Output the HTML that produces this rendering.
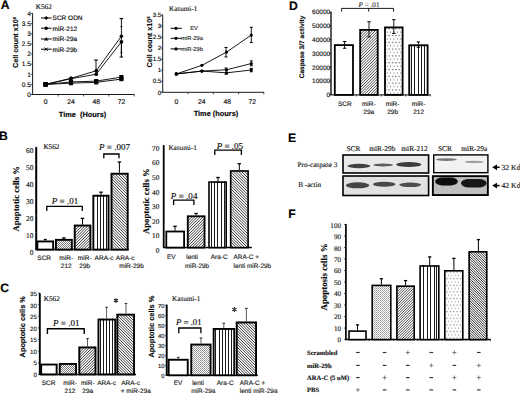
<!DOCTYPE html>
<html><head><meta charset="utf-8"><style>
html,body{margin:0;padding:0;background:#fff;}
body{width:520px;height:393px;overflow:hidden;}
svg{display:block;}
.S{font-family:"Liberation Sans", sans-serif;}
.T{font-family:"Liberation Serif", serif;}
text{text-rendering:geometricPrecision;stroke:#222;stroke-width:0.15px;}
</style></head><body>
<svg width="520" height="393" viewBox="0 0 520 393">

<defs>
<pattern id="dots" patternUnits="userSpaceOnUse" width="3.4" height="6.8"><rect width="3.4" height="6.8" fill="#fff"/><rect x="1" y="1" width="1.1" height="1.1" fill="#333"/><rect x="2.7" y="4.4" width="1.1" height="1.1" fill="#333"/></pattern>
<pattern id="sdots" patternUnits="userSpaceOnUse" width="3.4" height="6.6"><rect width="3.4" height="6.6" fill="#fff"/><rect x="1" y="1" width="1" height="1" fill="#555"/><rect x="2.7" y="4.3" width="1" height="1" fill="#555"/></pattern>
<pattern id="check" patternUnits="userSpaceOnUse" width="2" height="2"><rect width="2" height="2" fill="#fff"/><rect x="0" y="0" width="1" height="1" fill="#7a7a7a"/><rect x="1" y="1" width="1" height="1" fill="#7a7a7a"/></pattern>
<pattern id="fine2" patternUnits="userSpaceOnUse" width="2" height="2"><rect width="2" height="2" fill="#fff"/><rect x="0" y="0" width="1" height="1" fill="#9a9a9a"/><rect x="1" y="1" width="1" height="1" fill="#b0b0b0"/></pattern>
<pattern id="fine" patternUnits="userSpaceOnUse" width="2" height="2"><rect width="2" height="2" fill="#fff"/><rect x="0" y="0" width="1" height="1" fill="#8c8c8c"/><rect x="1" y="1" width="1" height="1" fill="#a0a0a0"/></pattern>
<filter id="blur1" x="-20%" y="-100%" width="140%" height="300%"><feGaussianBlur stdDeviation="0.7"/></filter>
<filter id="blur2"><feGaussianBlur stdDeviation="1.1"/></filter>
</defs>

<rect width="520" height="393" fill="#fff"/>
<text class="S" x="0.8" y="8.7" font-size="12.2" font-weight="bold" >A</text>
<text class="S" x="-0.9" y="140.3" font-size="12.2" font-weight="bold" >B</text>
<text class="S" x="0.3" y="291.7" font-size="12.2" font-weight="bold" >C</text>
<text class="S" x="288.9" y="9.6" font-size="12.2" font-weight="bold" >D</text>
<text class="S" x="288.1" y="142.3" font-size="12.2" font-weight="bold" >E</text>
<text class="S" x="288.2" y="218.3" font-size="12.2" font-weight="bold" >F</text>
<line x1="32.6" y1="13.2" x2="32.6" y2="94.5" stroke="#000" stroke-width="0.9"/>
<line x1="32.2" y1="94.5" x2="134.4" y2="94.5" stroke="#000" stroke-width="0.9"/>
<line x1="30.6" y1="94.5" x2="32.6" y2="94.5" stroke="#000" stroke-width="0.7"/>
<text class="S" x="31" y="96.8" font-size="6.6" text-anchor="end" >0</text>
<line x1="30.6" y1="84.38" x2="32.6" y2="84.38" stroke="#000" stroke-width="0.7"/>
<text class="S" x="31" y="86.67" font-size="6.6" text-anchor="end" >0.5</text>
<line x1="30.6" y1="74.25" x2="32.6" y2="74.25" stroke="#000" stroke-width="0.7"/>
<text class="S" x="31" y="76.55" font-size="6.6" text-anchor="end" >1</text>
<line x1="30.6" y1="64.12" x2="32.6" y2="64.12" stroke="#000" stroke-width="0.7"/>
<text class="S" x="31" y="66.42" font-size="6.6" text-anchor="end" >1.5</text>
<line x1="30.6" y1="54" x2="32.6" y2="54" stroke="#000" stroke-width="0.7"/>
<text class="S" x="31" y="56.3" font-size="6.6" text-anchor="end" >2</text>
<line x1="30.6" y1="43.88" x2="32.6" y2="43.88" stroke="#000" stroke-width="0.7"/>
<text class="S" x="31" y="46.17" font-size="6.6" text-anchor="end" >2.5</text>
<line x1="30.6" y1="33.75" x2="32.6" y2="33.75" stroke="#000" stroke-width="0.7"/>
<text class="S" x="31" y="36.05" font-size="6.6" text-anchor="end" >3</text>
<line x1="30.6" y1="23.62" x2="32.6" y2="23.62" stroke="#000" stroke-width="0.7"/>
<text class="S" x="31" y="25.93" font-size="6.6" text-anchor="end" >3.5</text>
<line x1="30.6" y1="13.5" x2="32.6" y2="13.5" stroke="#000" stroke-width="0.7"/>
<text class="S" x="31" y="15.8" font-size="6.6" text-anchor="end" >4</text>
<line x1="58.2" y1="94.5" x2="58.2" y2="96.5" stroke="#000" stroke-width="0.7"/>
<line x1="83.6" y1="94.5" x2="83.6" y2="96.5" stroke="#000" stroke-width="0.7"/>
<line x1="108.8" y1="94.5" x2="108.8" y2="96.5" stroke="#000" stroke-width="0.7"/>
<line x1="134.2" y1="94.5" x2="134.2" y2="96.5" stroke="#000" stroke-width="0.7"/>
<text class="S" x="45.6" y="103.8" font-size="6.8" text-anchor="middle" >0</text>
<text class="S" x="71" y="103.8" font-size="6.8" text-anchor="middle" >24</text>
<text class="S" x="96.2" y="103.8" font-size="6.8" text-anchor="middle" >48</text>
<text class="S" x="121.6" y="103.8" font-size="6.8" text-anchor="middle" >72</text>
<text class="S" x="82.5" y="116.8" font-size="7.4" font-weight="bold" text-anchor="middle" xml:space="preserve">Time  (Hours)</text>
<text class="S" transform="translate(18.12,42.4) rotate(-90)" text-anchor="middle" font-size="7.2" font-weight="bold" fill="#000">Cell count x10<tspan font-size="4.4" dy="-2.1">6</tspan></text>
<text class="T" x="35.8" y="9" font-size="7.2" >K562</text>
<line x1="41" y1="18" x2="51.6" y2="18" stroke="#000" stroke-width="1"/>
<path d="M46.2,16 L48.2,18 L46.2,20 L44.2,18Z" fill="#000"/>
<text class="S" x="52.6" y="20.3" font-size="6.5" >SCR ODN</text>
<line x1="41" y1="28.2" x2="51.6" y2="28.2" stroke="#000" stroke-width="1"/>
<circle cx="46.2" cy="28.2" r="1.7" fill="#000"/>
<text class="S" x="52.6" y="30.5" font-size="6.5" >miR-212</text>
<line x1="41" y1="39" x2="51.6" y2="39" stroke="#000" stroke-width="1"/>
<path d="M46.2,36.9 L48.3,40.6 L44.1,40.6Z" fill="#000"/>
<text class="S" x="52.6" y="41.3" font-size="6.5" >miR-29a</text>
<line x1="41" y1="49.2" x2="51.6" y2="49.2" stroke="#000" stroke-width="1"/>
<path d="M44.6,47.6 L47.8,50.8 M47.8,47.6 L44.6,50.8" stroke="#000" stroke-width="1" fill="none"/>
<text class="S" x="52.6" y="51.5" font-size="6.5" >miR-29b</text>
<polyline points="45.6,84.38 71,78.3 96.2,70.81 121.4,36.18" fill="none" stroke="#000" stroke-width="0.9"/>
<polyline points="45.6,84.38 71,78.7 96.2,74.25 121.4,41.85" fill="none" stroke="#000" stroke-width="0.9"/>
<polyline points="45.6,84.38 71,81.94 96.2,81.14 121.4,77.09" fill="none" stroke="#000" stroke-width="0.9"/>
<polyline points="45.6,84.38 71,83.16 96.2,82.35 121.4,79.11" fill="none" stroke="#000" stroke-width="0.9"/>
<line x1="121.4" y1="18.56" x2="121.4" y2="57.04" stroke="#000" stroke-width="0.9"/>
<line x1="119.65" y1="18.56" x2="123.15" y2="18.56" stroke="#000" stroke-width="1.2"/>
<line x1="121.4" y1="41.85" x2="121.4" y2="57.04" stroke="#000" stroke-width="0.9"/>
<line x1="96" y1="60.08" x2="96" y2="74.25" stroke="#000" stroke-width="0.9"/>
<line x1="94.25" y1="60.08" x2="97.75" y2="60.08" stroke="#000" stroke-width="1.2"/>
<rect x="43.5" y="82.28" width="4.2" height="4.2" fill="#000"/>
<path d="M71,76.1 L73.2,78.3 L71,80.5 L68.8,78.3Z" fill="#000"/>
<path d="M96.2,68.61 L98.4,70.81 L96.2,73.01 L94,70.81Z" fill="#000"/>
<path d="M121.4,33.98 L123.6,36.18 L121.4,38.38 L119.2,36.18Z" fill="#000"/>
<rect x="43.5" y="82.28" width="4.2" height="4.2" fill="#000"/>
<circle cx="71" cy="78.7" r="1.87" fill="#000"/>
<circle cx="96.2" cy="74.25" r="1.87" fill="#000"/>
<circle cx="121.4" cy="41.85" r="1.87" fill="#000"/>
<rect x="43.5" y="82.28" width="4.2" height="4.2" fill="#000"/>
<rect x="68.9" y="79.84" width="4.2" height="4.2" fill="#000"/>
<rect x="94.1" y="79.04" width="4.2" height="4.2" fill="#000"/>
<rect x="119.3" y="74.99" width="4.2" height="4.2" fill="#000"/>
<rect x="43.5" y="82.28" width="4.2" height="4.2" fill="#000"/>
<rect x="68.9" y="81.06" width="4.2" height="4.2" fill="#000"/>
<rect x="94.1" y="80.25" width="4.2" height="4.2" fill="#000"/>
<rect x="119.3" y="77.01" width="4.2" height="4.2" fill="#000"/>
<line x1="119.6" y1="57.04" x2="123.2" y2="57.04" stroke="#000" stroke-width="1"/>
<line x1="120.4" y1="26.6" x2="122.4" y2="26.6" stroke="#000" stroke-width="0.8"/>
<line x1="120.4" y1="52.3" x2="122.4" y2="52.3" stroke="#000" stroke-width="0.8"/>
<line x1="162.7" y1="14.6" x2="162.7" y2="92.3" stroke="#000" stroke-width="0.9"/>
<line x1="162.3" y1="92.3" x2="263.9" y2="92.3" stroke="#000" stroke-width="0.9"/>
<line x1="160.7" y1="92.3" x2="162.7" y2="92.3" stroke="#000" stroke-width="0.7"/>
<text class="S" x="161.3" y="94.5" font-size="6.2" text-anchor="end" >0</text>
<line x1="160.7" y1="81.25" x2="162.7" y2="81.25" stroke="#000" stroke-width="0.7"/>
<text class="S" x="161.3" y="83.45" font-size="6.2" text-anchor="end" >0.5</text>
<line x1="160.7" y1="70.2" x2="162.7" y2="70.2" stroke="#000" stroke-width="0.7"/>
<text class="S" x="161.3" y="72.4" font-size="6.2" text-anchor="end" >1</text>
<line x1="160.7" y1="59.15" x2="162.7" y2="59.15" stroke="#000" stroke-width="0.7"/>
<text class="S" x="161.3" y="61.35" font-size="6.2" text-anchor="end" >1.5</text>
<line x1="160.7" y1="48.1" x2="162.7" y2="48.1" stroke="#000" stroke-width="0.7"/>
<text class="S" x="161.3" y="50.3" font-size="6.2" text-anchor="end" >2</text>
<line x1="160.7" y1="37.05" x2="162.7" y2="37.05" stroke="#000" stroke-width="0.7"/>
<text class="S" x="161.3" y="39.25" font-size="6.2" text-anchor="end" >2.5</text>
<line x1="160.7" y1="26" x2="162.7" y2="26" stroke="#000" stroke-width="0.7"/>
<text class="S" x="161.3" y="28.2" font-size="6.2" text-anchor="end" >3</text>
<line x1="160.7" y1="14.95" x2="162.7" y2="14.95" stroke="#000" stroke-width="0.7"/>
<text class="S" x="161.3" y="17.15" font-size="6.2" text-anchor="end" >3.5</text>
<line x1="188" y1="92.3" x2="188" y2="94.3" stroke="#000" stroke-width="0.7"/>
<line x1="213.3" y1="92.3" x2="213.3" y2="94.3" stroke="#000" stroke-width="0.7"/>
<line x1="238.6" y1="92.3" x2="238.6" y2="94.3" stroke="#000" stroke-width="0.7"/>
<line x1="263.8" y1="92.3" x2="263.8" y2="94.3" stroke="#000" stroke-width="0.7"/>
<text class="S" x="176.3" y="104.4" font-size="6.8" text-anchor="middle" >0</text>
<text class="S" x="201.8" y="104.4" font-size="6.8" text-anchor="middle" >24</text>
<text class="S" x="227.2" y="104.4" font-size="6.8" text-anchor="middle" >48</text>
<text class="S" x="252.2" y="104.4" font-size="6.8" text-anchor="middle" >72</text>
<text class="S" x="216" y="116.2" font-size="7.4" text-anchor="middle" font-weight="bold" >Time (hours)</text>
<text class="S" transform="translate(151.92,41.9) rotate(-90)" text-anchor="middle" font-size="7.2" font-weight="bold" fill="#000">Cell count x10<tspan font-size="4.4" dy="-2.1">6</tspan></text>
<text class="T" x="169" y="10.7" font-size="7.2" fill="#222" >Kasumi-1</text>
<line x1="170.6" y1="28.3" x2="181.8" y2="28.3" stroke="#000" stroke-width="1"/>
<circle cx="176" cy="28.3" r="1.6" fill="#000"/>
<text class="S" x="190.2" y="30.4" font-size="5.7" fill="#333" >EV</text>
<line x1="170.6" y1="38.3" x2="181.8" y2="38.3" stroke="#000" stroke-width="1"/>
<circle cx="176" cy="38.3" r="1.6" fill="#000"/>
<text class="S" x="181.3" y="40.4" font-size="5.7" fill="#333" >miR-29a</text>
<line x1="170.6" y1="48.9" x2="181.8" y2="48.9" stroke="#000" stroke-width="1"/>
<circle cx="176" cy="48.9" r="1.6" fill="#000"/>
<text class="S" x="181.3" y="51" font-size="5.7" fill="#333" >miR-29b</text>
<polyline points="176.3,73.96 201.9,65.34 226.6,52.08 251.3,35.06" fill="none" stroke="#000" stroke-width="0.9"/>
<circle cx="176.3" cy="73.96" r="1.6" fill="#000"/>
<circle cx="201.9" cy="65.34" r="1.6" fill="#000"/>
<circle cx="226.6" cy="52.08" r="1.6" fill="#000"/>
<circle cx="251.3" cy="35.06" r="1.6" fill="#000"/>
<polyline points="176.3,73.96 201.9,71.08 226.6,69.76 251.3,63.57" fill="none" stroke="#000" stroke-width="0.9"/>
<circle cx="176.3" cy="73.96" r="1.6" fill="#000"/>
<circle cx="201.9" cy="71.08" r="1.6" fill="#000"/>
<circle cx="226.6" cy="69.76" r="1.6" fill="#000"/>
<circle cx="251.3" cy="63.57" r="1.6" fill="#000"/>
<polyline points="176.3,73.96 201.9,71.08 226.6,72.85 251.3,69.98" fill="none" stroke="#000" stroke-width="0.9"/>
<circle cx="176.3" cy="73.96" r="1.6" fill="#000"/>
<circle cx="201.9" cy="71.08" r="1.6" fill="#000"/>
<circle cx="226.6" cy="72.85" r="1.6" fill="#000"/>
<circle cx="251.3" cy="69.98" r="1.6" fill="#000"/>
<line x1="251.3" y1="27.33" x2="251.3" y2="42.57" stroke="#000" stroke-width="0.9"/>
<line x1="249.8" y1="27.33" x2="252.8" y2="27.33" stroke="#000" stroke-width="1"/>
<line x1="249.8" y1="42.57" x2="252.8" y2="42.57" stroke="#000" stroke-width="1"/>
<line x1="226" y1="47.44" x2="226" y2="56.94" stroke="#000" stroke-width="0.9"/>
<line x1="224.5" y1="47.44" x2="227.5" y2="47.44" stroke="#000" stroke-width="1"/>
<line x1="224.5" y1="56.94" x2="227.5" y2="56.94" stroke="#000" stroke-width="1"/>
<line x1="251.3" y1="60.92" x2="251.3" y2="65.78" stroke="#000" stroke-width="0.9"/>
<line x1="249.8" y1="60.92" x2="252.8" y2="60.92" stroke="#000" stroke-width="1"/>
<line x1="249.8" y1="65.78" x2="252.8" y2="65.78" stroke="#000" stroke-width="1"/>
<line x1="251.3" y1="68.43" x2="251.3" y2="71.75" stroke="#000" stroke-width="0.9"/>
<line x1="249.8" y1="68.43" x2="252.8" y2="68.43" stroke="#000" stroke-width="1"/>
<line x1="249.8" y1="71.75" x2="252.8" y2="71.75" stroke="#000" stroke-width="1"/>
<line x1="226" y1="67.99" x2="226" y2="74.18" stroke="#000" stroke-width="0.9"/>
<line x1="224.5" y1="67.99" x2="227.5" y2="67.99" stroke="#000" stroke-width="1"/>
<line x1="224.5" y1="74.18" x2="227.5" y2="74.18" stroke="#000" stroke-width="1"/>
<line x1="331" y1="11.8" x2="331" y2="94.9" stroke="#000" stroke-width="1.3"/>
<line x1="330.6" y1="94.9" x2="430.6" y2="94.9" stroke="#000" stroke-width="1"/>
<line x1="329" y1="94.9" x2="331" y2="94.9" stroke="#000" stroke-width="0.7"/>
<text class="S" x="330.2" y="97.2" font-size="6.5" text-anchor="end" fill="#111" >0</text>
<line x1="329" y1="81.1" x2="331" y2="81.1" stroke="#000" stroke-width="0.7"/>
<text class="S" x="330.2" y="83.4" font-size="6.5" text-anchor="end" fill="#111" >10000</text>
<line x1="329" y1="67.3" x2="331" y2="67.3" stroke="#000" stroke-width="0.7"/>
<text class="S" x="330.2" y="69.6" font-size="6.5" text-anchor="end" fill="#111" >20000</text>
<line x1="329" y1="53.5" x2="331" y2="53.5" stroke="#000" stroke-width="0.7"/>
<text class="S" x="330.2" y="55.8" font-size="6.5" text-anchor="end" fill="#111" >30000</text>
<line x1="329" y1="39.7" x2="331" y2="39.7" stroke="#000" stroke-width="0.7"/>
<text class="S" x="330.2" y="42" font-size="6.5" text-anchor="end" fill="#111" >40000</text>
<line x1="329" y1="25.9" x2="331" y2="25.9" stroke="#000" stroke-width="0.7"/>
<text class="S" x="330.2" y="28.2" font-size="6.5" text-anchor="end" fill="#111" >50000</text>
<line x1="329" y1="12.1" x2="331" y2="12.1" stroke="#000" stroke-width="0.7"/>
<text class="S" x="330.2" y="14.4" font-size="6.5" text-anchor="end" fill="#111" >60000</text>
<line x1="356.4" y1="94.9" x2="356.4" y2="96.5" stroke="#000" stroke-width="0.7"/>
<line x1="381.3" y1="94.9" x2="381.3" y2="96.5" stroke="#000" stroke-width="0.7"/>
<line x1="405.6" y1="94.9" x2="405.6" y2="96.5" stroke="#000" stroke-width="0.7"/>
<line x1="430.4" y1="94.9" x2="430.4" y2="96.5" stroke="#000" stroke-width="0.7"/>
<rect x="334.8" y="45.1" width="18.2" height="49.8" fill="#fff" stroke="#000" stroke-width="1.8"/>
<clipPath id="c1"><rect x="359.3" y="29" width="19.3" height="65.9"/></clipPath>
<rect x="359.3" y="29" width="19.3" height="65.9" fill="#fff"/>
<path clip-path="url(#c1)" d="M288.7,94.9L354.6,29M291.5,94.9L357.4,29M294.3,94.9L360.2,29M297.1,94.9L363,29M299.9,94.9L365.8,29M302.7,94.9L368.6,29M305.5,94.9L371.4,29M308.3,94.9L374.2,29M311.1,94.9L377,29M313.9,94.9L379.8,29M316.7,94.9L382.6,29M319.5,94.9L385.4,29M322.3,94.9L388.2,29M325.1,94.9L391,29M327.9,94.9L393.8,29M330.7,94.9L396.6,29M333.5,94.9L399.4,29M336.3,94.9L402.2,29M339.1,94.9L405,29M341.9,94.9L407.8,29M344.7,94.9L410.6,29M347.5,94.9L413.4,29M350.3,94.9L416.2,29M353.1,94.9L419,29M355.9,94.9L421.8,29M358.7,94.9L424.6,29M361.5,94.9L427.4,29M364.3,94.9L430.2,29M367.1,94.9L433,29M369.9,94.9L435.8,29M372.7,94.9L438.6,29M375.5,94.9L441.4,29M378.3,94.9L444.2,29M381.1,94.9L447,29" stroke="#000" stroke-width="0.72" fill="none"/>
<rect x="360.2" y="29.9" width="17.5" height="65" fill="none" stroke="#000" stroke-width="1.8"/>
<rect x="385" y="27.4" width="17.6" height="67.5" fill="url(#dots)" stroke="#000" stroke-width="1.8"/>
<rect x="408.3" y="44.4" width="20.2" height="50.5" fill="#fff"/>
<rect x="411" y="44.4" width="1" height="50.5" fill="#1a1a1a"/>
<rect x="414" y="44.4" width="1" height="50.5" fill="#1a1a1a"/>
<rect x="418" y="44.4" width="1" height="50.5" fill="#1a1a1a"/>
<rect x="421" y="44.4" width="1" height="50.5" fill="#1a1a1a"/>
<rect x="424" y="44.4" width="1" height="50.5" fill="#1a1a1a"/>
<rect x="409.2" y="45.3" width="18.4" height="49.6" fill="none" stroke="#000" stroke-width="1.8"/>
<line x1="344.6" y1="41.49" x2="344.6" y2="48.26" stroke="#000" stroke-width="0.9"/>
<line x1="342.9" y1="41.49" x2="346.3" y2="41.49" stroke="#000" stroke-width="1"/>
<line x1="342.9" y1="48.26" x2="346.3" y2="48.26" stroke="#000" stroke-width="1"/>
<line x1="369" y1="21.76" x2="369" y2="36.94" stroke="#000" stroke-width="0.9"/>
<line x1="367.3" y1="21.76" x2="370.7" y2="21.76" stroke="#000" stroke-width="1"/>
<line x1="367.3" y1="36.94" x2="370.7" y2="36.94" stroke="#000" stroke-width="1"/>
<line x1="393.8" y1="19.69" x2="393.8" y2="33.49" stroke="#000" stroke-width="0.9"/>
<line x1="392.1" y1="19.69" x2="395.5" y2="19.69" stroke="#000" stroke-width="1"/>
<line x1="392.1" y1="33.49" x2="395.5" y2="33.49" stroke="#000" stroke-width="1"/>
<line x1="418.4" y1="41.91" x2="418.4" y2="47.29" stroke="#000" stroke-width="0.9"/>
<line x1="416.7" y1="41.91" x2="420.1" y2="41.91" stroke="#000" stroke-width="1"/>
<line x1="416.7" y1="47.29" x2="420.1" y2="47.29" stroke="#000" stroke-width="1"/>
<path d="M341.6,11.6 V8.4 H393.6 V11.6" fill="none" stroke="#000" stroke-width="0.9"/>
<line x1="368.7" y1="8.4" x2="368.7" y2="11.6" stroke="#000" stroke-width="0.9"/>
<text class="T" x="358.5" y="6.7" font-size="7.2" textLength="21" lengthAdjust="spacing" fill="#111" style="stroke-width:0.07px"><tspan font-style="italic">P</tspan> = .01</text>
<text class="S" x="344.8" y="106.3" font-size="6.5" text-anchor="middle" fill="#222" >SCR</text>
<text class="S" x="368.8" y="106.3" font-size="6.5" text-anchor="middle" fill="#222" >miR-</text>
<text class="S" x="368.8" y="113.8" font-size="6.5" text-anchor="middle" fill="#222" >29a</text>
<text class="S" x="392.6" y="106.3" font-size="6.5" text-anchor="middle" fill="#222" >miR-</text>
<text class="S" x="392.6" y="113.8" font-size="6.5" text-anchor="middle" fill="#222" >29b</text>
<text class="S" x="418.6" y="106.3" font-size="6.5" text-anchor="middle" fill="#222" >miR-</text>
<text class="S" x="418.6" y="113.8" font-size="6.5" text-anchor="middle" fill="#222" >212</text>
<text class="S" transform="translate(303.91,47) rotate(-90)" text-anchor="middle" font-size="6.6" font-weight="bold" fill="#000">Caspase 3/7 activity</text>
<line x1="36.2" y1="147.1" x2="36.2" y2="249.6" stroke="#000" stroke-width="2"/>
<line x1="35" y1="249.6" x2="128.8" y2="249.6" stroke="#000" stroke-width="1.5"/>
<line x1="34.9" y1="249.6" x2="36.3" y2="249.6" stroke="#777" stroke-width="0.6"/>
<text class="T" x="33.4" y="254.5" font-size="7.4" text-anchor="end" fill="#111" >0</text>
<line x1="34.9" y1="232.5" x2="36.3" y2="232.5" stroke="#777" stroke-width="0.6"/>
<text class="T" x="33.4" y="237.5" font-size="7.4" text-anchor="end" fill="#111" >10</text>
<line x1="34.9" y1="215.4" x2="36.3" y2="215.4" stroke="#777" stroke-width="0.6"/>
<text class="T" x="33.4" y="220.5" font-size="7.4" text-anchor="end" fill="#111" >20</text>
<line x1="34.9" y1="198.3" x2="36.3" y2="198.3" stroke="#777" stroke-width="0.6"/>
<text class="T" x="33.4" y="203.5" font-size="7.4" text-anchor="end" fill="#111" >30</text>
<line x1="34.9" y1="181.2" x2="36.3" y2="181.2" stroke="#777" stroke-width="0.6"/>
<text class="T" x="33.4" y="186.5" font-size="7.4" text-anchor="end" fill="#111" >40</text>
<line x1="34.9" y1="164.1" x2="36.3" y2="164.1" stroke="#777" stroke-width="0.6"/>
<text class="T" x="33.4" y="169.5" font-size="7.4" text-anchor="end" fill="#111" >50</text>
<line x1="34.9" y1="147" x2="36.3" y2="147" stroke="#777" stroke-width="0.6"/>
<text class="T" x="33.4" y="152.5" font-size="7.4" text-anchor="end" fill="#111" >60</text>
<rect x="37.35" y="241.45" width="15.8" height="8.15" fill="#fff" stroke="#000" stroke-width="1.9"/>
<rect x="55.95" y="239.85" width="15.9" height="9.75" fill="url(#check)" stroke="#000" stroke-width="1.9"/>
<clipPath id="c2"><rect x="73.8" y="224.6" width="17.5" height="25"/></clipPath>
<rect x="73.8" y="224.6" width="17.5" height="25" fill="#fff"/>
<path clip-path="url(#c2)" d="M44.4,249.6L69.4,224.6M47.2,249.6L72.2,224.6M50,249.6L75,224.6M52.8,249.6L77.8,224.6M55.6,249.6L80.6,224.6M58.4,249.6L83.4,224.6M61.2,249.6L86.2,224.6M64,249.6L89,224.6M66.8,249.6L91.8,224.6M69.6,249.6L94.6,224.6M72.4,249.6L97.4,224.6M75.2,249.6L100.2,224.6M78,249.6L103,224.6M80.8,249.6L105.8,224.6M83.6,249.6L108.6,224.6M86.4,249.6L111.4,224.6M89.2,249.6L114.2,224.6M92,249.6L117,224.6" stroke="#000" stroke-width="0.78" fill="none"/>
<rect x="74.75" y="225.55" width="15.6" height="24.05" fill="none" stroke="#000" stroke-width="1.9"/>
<rect x="92.4" y="194.8" width="17.1" height="54.8" fill="#fff"/>
<rect x="97" y="194.8" width="1" height="54.8" fill="#1a1a1a"/>
<rect x="100" y="194.8" width="1" height="54.8" fill="#1a1a1a"/>
<rect x="103" y="194.8" width="1" height="54.8" fill="#1a1a1a"/>
<rect x="106" y="194.8" width="1" height="54.8" fill="#1a1a1a"/>
<rect x="93.35" y="195.75" width="15.2" height="53.85" fill="none" stroke="#000" stroke-width="1.9"/>
<clipPath id="c3"><rect x="110.6" y="172.8" width="18" height="76.8"/></clipPath>
<rect x="110.6" y="172.8" width="18" height="76.8" fill="#fff"/>
<path clip-path="url(#c3)" d="M32.8,172.8L109.6,249.6M35.6,172.8L112.4,249.6M38.4,172.8L115.2,249.6M41.2,172.8L118,249.6M44,172.8L120.8,249.6M46.8,172.8L123.6,249.6M49.6,172.8L126.4,249.6M52.4,172.8L129.2,249.6M55.2,172.8L132,249.6M58,172.8L134.8,249.6M60.8,172.8L137.6,249.6M63.6,172.8L140.4,249.6M66.4,172.8L143.2,249.6M69.2,172.8L146,249.6M72,172.8L148.8,249.6M74.8,172.8L151.6,249.6M77.6,172.8L154.4,249.6M80.4,172.8L157.2,249.6M83.2,172.8L160,249.6M86,172.8L162.8,249.6M88.8,172.8L165.6,249.6M91.6,172.8L168.4,249.6M94.4,172.8L171.2,249.6M97.2,172.8L174,249.6M100,172.8L176.8,249.6M102.8,172.8L179.6,249.6M105.6,172.8L182.4,249.6M108.4,172.8L185.2,249.6M111.2,172.8L188,249.6M114,172.8L190.8,249.6M116.8,172.8L193.6,249.6M119.6,172.8L196.4,249.6M122.4,172.8L199.2,249.6M125.2,172.8L202,249.6M128,172.8L204.8,249.6M130.8,172.8L207.6,249.6" stroke="#000" stroke-width="0.78" fill="none"/>
<rect x="111.55" y="173.75" width="16.1" height="75.85" fill="none" stroke="#000" stroke-width="1.9"/>
<line x1="45.3" y1="239.5" x2="45.3" y2="240.5" stroke="#000" stroke-width="1"/>
<line x1="43.8" y1="239.5" x2="46.8" y2="239.5" stroke="#000" stroke-width="1.3"/>
<line x1="63.9" y1="237.9" x2="63.9" y2="239" stroke="#000" stroke-width="1"/>
<line x1="62.15" y1="237.9" x2="65.65" y2="237.9" stroke="#000" stroke-width="1.3"/>
<line x1="82.5" y1="218.4" x2="82.5" y2="224.6" stroke="#000" stroke-width="1"/>
<line x1="80.75" y1="218.4" x2="84.25" y2="218.4" stroke="#000" stroke-width="1.3"/>
<line x1="101" y1="192.2" x2="101" y2="194.8" stroke="#000" stroke-width="1"/>
<line x1="99.25" y1="192.2" x2="102.75" y2="192.2" stroke="#000" stroke-width="1.3"/>
<line x1="119.4" y1="162" x2="119.4" y2="172.8" stroke="#000" stroke-width="1"/>
<line x1="117.65" y1="162" x2="121.15" y2="162" stroke="#000" stroke-width="1.3"/>
<path d="M46.8,211 V206.3 H82.3 V211" fill="none" stroke="#000" stroke-width="1.3"/>
<text class="T" x="51.8" y="204.4" font-size="9" textLength="26.4" lengthAdjust="spacing"><tspan font-style="italic">P</tspan> = .01</text>
<path d="M103.8,158.2 V154 H119 V158.2" fill="none" stroke="#000" stroke-width="1.3"/>
<text class="T" x="98.9" y="150.1" font-size="9" textLength="31.2" lengthAdjust="spacing"><tspan font-style="italic">P</tspan> = .007</text>
<text class="T" x="43.4" y="149.3" font-size="7.2" >K562</text>
<text class="S" x="44.2" y="260.4" font-size="6.5" text-anchor="middle" fill="#222" >SCR</text>
<text class="S" x="66.2" y="260.4" font-size="6.5" text-anchor="middle" fill="#222" >miR-</text>
<text class="S" x="66.2" y="268.4" font-size="6.5" text-anchor="middle" fill="#222" >212</text>
<text class="S" x="84.7" y="260.4" font-size="6.5" text-anchor="middle" fill="#222" >miR-</text>
<text class="S" x="84.7" y="268.4" font-size="6.5" text-anchor="middle" fill="#222" >29b</text>
<text class="S" x="104" y="260.4" font-size="6.5" text-anchor="middle" fill="#222" >ARA-c</text>
<text class="S" x="125.2" y="260.4" font-size="6.5" text-anchor="middle" fill="#222" >ARA-c</text>
<text class="S" x="131.5" y="268.4" font-size="6.5" text-anchor="middle" fill="#222" >miR-29b</text>
<text class="T" transform="translate(19.04,198.8) rotate(-90)" text-anchor="middle" font-size="8.7" font-weight="bold" fill="#000">Apoptotic cells %</text>
<line x1="163.7" y1="145.1" x2="163.7" y2="247.6" stroke="#000" stroke-width="1.8"/>
<line x1="163.1" y1="247.6" x2="251.8" y2="247.6" stroke="#000" stroke-width="1.5"/>
<text class="T" x="159.4" y="252.9" font-size="7.3" text-anchor="end" fill="#111" >0</text>
<text class="T" x="159.4" y="238.3" font-size="7.3" text-anchor="end" fill="#111" >10</text>
<text class="T" x="159.4" y="223.7" font-size="7.3" text-anchor="end" fill="#111" >20</text>
<text class="T" x="159.4" y="209.1" font-size="7.3" text-anchor="end" fill="#111" >30</text>
<text class="T" x="159.4" y="194.5" font-size="7.3" text-anchor="end" fill="#111" >40</text>
<text class="T" x="159.4" y="179.9" font-size="7.3" text-anchor="end" fill="#111" >50</text>
<text class="T" x="159.4" y="165.3" font-size="7.3" text-anchor="end" fill="#111" >60</text>
<text class="T" x="159.4" y="150.7" font-size="7.3" text-anchor="end" fill="#111" >70</text>
<rect x="166.3" y="231.5" width="17.8" height="16.1" fill="#fff" stroke="#000" stroke-width="1.8"/>
<clipPath id="c4"><rect x="186.9" y="215.4" width="18.5" height="32.2"/></clipPath>
<rect x="186.9" y="215.4" width="18.5" height="32.2" fill="#fff"/>
<path clip-path="url(#c4)" d="M150,247.6L182.2,215.4M152.8,247.6L185,215.4M155.6,247.6L187.8,215.4M158.4,247.6L190.6,215.4M161.2,247.6L193.4,215.4M164,247.6L196.2,215.4M166.8,247.6L199,215.4M169.6,247.6L201.8,215.4M172.4,247.6L204.6,215.4M175.2,247.6L207.4,215.4M178,247.6L210.2,215.4M180.8,247.6L213,215.4M183.6,247.6L215.8,215.4M186.4,247.6L218.6,215.4M189.2,247.6L221.4,215.4M192,247.6L224.2,215.4M194.8,247.6L227,215.4M197.6,247.6L229.8,215.4M200.4,247.6L232.6,215.4M203.2,247.6L235.4,215.4M206,247.6L238.2,215.4" stroke="#000" stroke-width="0.78" fill="none"/>
<rect x="187.8" y="216.3" width="16.7" height="31.3" fill="none" stroke="#000" stroke-width="1.8"/>
<rect x="208.2" y="181.3" width="18.8" height="66.3" fill="#fff"/>
<rect x="211" y="181.3" width="1" height="66.3" fill="#1a1a1a"/>
<rect x="214" y="181.3" width="1" height="66.3" fill="#1a1a1a"/>
<rect x="217" y="181.3" width="1" height="66.3" fill="#1a1a1a"/>
<rect x="221" y="181.3" width="1" height="66.3" fill="#1a1a1a"/>
<rect x="224" y="181.3" width="1" height="66.3" fill="#1a1a1a"/>
<rect x="209" y="182.1" width="17.2" height="65.5" fill="none" stroke="#000" stroke-width="1.6"/>
<clipPath id="c5"><rect x="229.9" y="170.2" width="19" height="77.4"/></clipPath>
<rect x="229.9" y="170.2" width="19" height="77.4" fill="#fff"/>
<path clip-path="url(#c5)" d="M150.6,170.2L228,247.6M153.4,170.2L230.8,247.6M156.2,170.2L233.6,247.6M159,170.2L236.4,247.6M161.8,170.2L239.2,247.6M164.6,170.2L242,247.6M167.4,170.2L244.8,247.6M170.2,170.2L247.6,247.6M173,170.2L250.4,247.6M175.8,170.2L253.2,247.6M178.6,170.2L256,247.6M181.4,170.2L258.8,247.6M184.2,170.2L261.6,247.6M187,170.2L264.4,247.6M189.8,170.2L267.2,247.6M192.6,170.2L270,247.6M195.4,170.2L272.8,247.6M198.2,170.2L275.6,247.6M201,170.2L278.4,247.6M203.8,170.2L281.2,247.6M206.6,170.2L284,247.6M209.4,170.2L286.8,247.6M212.2,170.2L289.6,247.6M215,170.2L292.4,247.6M217.8,170.2L295.2,247.6M220.6,170.2L298,247.6M223.4,170.2L300.8,247.6M226.2,170.2L303.6,247.6M229,170.2L306.4,247.6M231.8,170.2L309.2,247.6M234.6,170.2L312,247.6M237.4,170.2L314.8,247.6M240.2,170.2L317.6,247.6M243,170.2L320.4,247.6M245.8,170.2L323.2,247.6M248.6,170.2L326,247.6M251.4,170.2L328.8,247.6" stroke="#000" stroke-width="0.78" fill="none"/>
<rect x="230.7" y="171" width="17.4" height="76.6" fill="none" stroke="#000" stroke-width="1.6"/>
<line x1="175" y1="226.3" x2="175" y2="230.6" stroke="#000" stroke-width="1"/>
<line x1="173.25" y1="226.3" x2="176.75" y2="226.3" stroke="#000" stroke-width="1.3"/>
<line x1="196.1" y1="213.5" x2="196.1" y2="215.4" stroke="#000" stroke-width="1"/>
<line x1="194.35" y1="213.5" x2="197.85" y2="213.5" stroke="#000" stroke-width="1.3"/>
<line x1="218" y1="177.5" x2="218" y2="181.3" stroke="#000" stroke-width="1"/>
<line x1="216.25" y1="177.5" x2="219.75" y2="177.5" stroke="#000" stroke-width="1.3"/>
<line x1="239.3" y1="163.7" x2="239.3" y2="170.2" stroke="#000" stroke-width="1"/>
<line x1="237.55" y1="163.7" x2="241.05" y2="163.7" stroke="#000" stroke-width="1.3"/>
<path d="M173.6,205 V200.2 H193.9 V205" fill="none" stroke="#000" stroke-width="1.3"/>
<text class="T" x="170.8" y="198.5" font-size="9" textLength="26.6" lengthAdjust="spacing"><tspan font-style="italic">P</tspan> = .04</text>
<path d="M214.8,155 V150.1 H241.4 V155" fill="none" stroke="#000" stroke-width="1.3"/>
<text class="T" x="216.7" y="148.8" font-size="9" textLength="26.4" lengthAdjust="spacing"><tspan font-style="italic">P</tspan> = .05</text>
<text class="T" x="168.4" y="149.8" font-size="7.2" fill="#222" >Kasumi-1</text>
<text class="S" x="171.3" y="259.4" font-size="6.4" text-anchor="middle" fill="#222" >EV</text>
<text class="S" x="186.3" y="259.4" font-size="6.4" fill="#222" >lenti</text>
<text class="S" x="185" y="267.9" font-size="6.4" fill="#222" >miR-29b</text>
<text class="S" x="219.2" y="259.4" font-size="6.4" text-anchor="middle" fill="#222" >Ara-C</text>
<text class="S" x="233.5" y="259.4" font-size="6.4" fill="#222" >ARA-C +</text>
<text class="S" x="233.5" y="267.9" font-size="6.4" fill="#222" >lenti miR-29b</text>
<text class="T" transform="translate(149.14,201.2) rotate(-90)" text-anchor="middle" font-size="8.7" font-weight="bold" fill="#000">Apoptotic cells %</text>
<line x1="39.8" y1="293.2" x2="39.8" y2="374.4" stroke="#000" stroke-width="1.9"/>
<line x1="39.4" y1="374.4" x2="136" y2="374.4" stroke="#000" stroke-width="1.5"/>
<line x1="38.1" y1="374.4" x2="39.9" y2="374.4" stroke="#000" stroke-width="0.7"/>
<text class="S" x="36.9" y="376.6" font-size="6.2" text-anchor="end" fill="#222" >0</text>
<line x1="38.1" y1="362.78" x2="39.9" y2="362.78" stroke="#000" stroke-width="0.7"/>
<text class="S" x="36.9" y="365.15" font-size="6.2" text-anchor="end" fill="#222" >5</text>
<line x1="38.1" y1="351.16" x2="39.9" y2="351.16" stroke="#000" stroke-width="0.7"/>
<text class="S" x="36.9" y="353.7" font-size="6.2" text-anchor="end" fill="#222" >10</text>
<line x1="38.1" y1="339.54" x2="39.9" y2="339.54" stroke="#000" stroke-width="0.7"/>
<text class="S" x="36.9" y="342.25" font-size="6.2" text-anchor="end" fill="#222" >15</text>
<line x1="38.1" y1="327.92" x2="39.9" y2="327.92" stroke="#000" stroke-width="0.7"/>
<text class="S" x="36.9" y="330.8" font-size="6.2" text-anchor="end" fill="#222" >20</text>
<line x1="38.1" y1="316.3" x2="39.9" y2="316.3" stroke="#000" stroke-width="0.7"/>
<text class="S" x="36.9" y="319.35" font-size="6.2" text-anchor="end" fill="#222" >25</text>
<line x1="38.1" y1="304.68" x2="39.9" y2="304.68" stroke="#000" stroke-width="0.7"/>
<text class="S" x="36.9" y="307.9" font-size="6.2" text-anchor="end" fill="#222" >30</text>
<line x1="38.1" y1="293.06" x2="39.9" y2="293.06" stroke="#000" stroke-width="0.7"/>
<text class="S" x="36.9" y="296.45" font-size="6.2" text-anchor="end" fill="#222" >35</text>
<rect x="41.15" y="364.55" width="15.5" height="9.85" fill="#fff" stroke="#000" stroke-width="1.9"/>
<rect x="59.75" y="363.95" width="16.3" height="10.45" fill="url(#check)" stroke="#000" stroke-width="1.9"/>
<clipPath id="c6"><rect x="78.4" y="346.5" width="18" height="27.9"/></clipPath>
<rect x="78.4" y="346.5" width="18" height="27.9" fill="#fff"/>
<path clip-path="url(#c6)" d="M46.35,374.4L74.25,346.5M49.1,374.4L77,346.5M51.85,374.4L79.75,346.5M54.6,374.4L82.5,346.5M57.35,374.4L85.25,346.5M60.1,374.4L88,346.5M62.85,374.4L90.75,346.5M65.6,374.4L93.5,346.5M68.35,374.4L96.25,346.5M71.1,374.4L99,346.5M73.85,374.4L101.75,346.5M76.6,374.4L104.5,346.5M79.35,374.4L107.25,346.5M82.1,374.4L110,346.5M84.85,374.4L112.75,346.5M87.6,374.4L115.5,346.5M90.35,374.4L118.25,346.5M93.1,374.4L121,346.5M95.85,374.4L123.75,346.5M98.6,374.4L126.5,346.5" stroke="#000" stroke-width="0.78" fill="none"/>
<rect x="79.35" y="347.45" width="16.1" height="26.95" fill="none" stroke="#000" stroke-width="1.9"/>
<rect x="97.5" y="318.6" width="18.7" height="55.8" fill="#fff"/>
<rect x="100" y="318.6" width="1" height="55.8" fill="#1a1a1a"/>
<rect x="103" y="318.6" width="1" height="55.8" fill="#1a1a1a"/>
<rect x="106" y="318.6" width="1" height="55.8" fill="#1a1a1a"/>
<rect x="109" y="318.6" width="1" height="55.8" fill="#1a1a1a"/>
<rect x="112" y="318.6" width="1" height="55.8" fill="#1a1a1a"/>
<rect x="98.45" y="319.55" width="16.8" height="54.85" fill="none" stroke="#000" stroke-width="1.9"/>
<clipPath id="c7"><rect x="116.4" y="313.7" width="18.6" height="60.7"/></clipPath>
<rect x="116.4" y="313.7" width="18.6" height="60.7" fill="#fff"/>
<path clip-path="url(#c7)" d="M55.2,313.7L115.9,374.4M57.95,313.7L118.65,374.4M60.7,313.7L121.4,374.4M63.45,313.7L124.15,374.4M66.2,313.7L126.9,374.4M68.95,313.7L129.65,374.4M71.7,313.7L132.4,374.4M74.45,313.7L135.15,374.4M77.2,313.7L137.9,374.4M79.95,313.7L140.65,374.4M82.7,313.7L143.4,374.4M85.45,313.7L146.15,374.4M88.2,313.7L148.9,374.4M90.95,313.7L151.65,374.4M93.7,313.7L154.4,374.4M96.45,313.7L157.15,374.4M99.2,313.7L159.9,374.4M101.95,313.7L162.65,374.4M104.7,313.7L165.4,374.4M107.45,313.7L168.15,374.4M110.2,313.7L170.9,374.4M112.95,313.7L173.65,374.4M115.7,313.7L176.4,374.4M118.45,313.7L179.15,374.4M121.2,313.7L181.9,374.4M123.95,313.7L184.65,374.4M126.7,313.7L187.4,374.4M129.45,313.7L190.15,374.4M132.2,313.7L192.9,374.4M134.95,313.7L195.65,374.4M137.7,313.7L198.4,374.4" stroke="#000" stroke-width="0.78" fill="none"/>
<rect x="117.35" y="314.65" width="16.7" height="59.75" fill="none" stroke="#000" stroke-width="1.9"/>
<line x1="87.5" y1="338.6" x2="87.5" y2="346.5" stroke="#333" stroke-width="0.8"/>
<line x1="86.2" y1="338.6" x2="88.8" y2="338.6" stroke="#333" stroke-width="1.1"/>
<line x1="106.6" y1="307.3" x2="106.6" y2="318.6" stroke="#333" stroke-width="0.8"/>
<line x1="105.3" y1="307.3" x2="107.9" y2="307.3" stroke="#333" stroke-width="1.1"/>
<line x1="126" y1="303.5" x2="126" y2="313.7" stroke="#333" stroke-width="0.8"/>
<line x1="124.7" y1="303.5" x2="127.3" y2="303.5" stroke="#333" stroke-width="1.1"/>
<path d="M115.9,298.2 L115.9,303 M113.82,299.4 L117.98,301.8 M113.82,301.8 L117.98,299.4" stroke="#3a3a3a" stroke-width="1.25" fill="none"/>
<path d="M47.4,334 V328.8 H84.2 V334" fill="none" stroke="#000" stroke-width="1.4"/>
<text class="T" x="53" y="325.9" font-size="9" textLength="26.4" lengthAdjust="spacing"><tspan font-style="italic">P</tspan> = .01</text>
<text class="T" x="43.8" y="301.1" font-size="7.2" >K562</text>
<text class="S" x="48.6" y="385" font-size="6.5" text-anchor="middle" fill="#222" >SCR</text>
<text class="S" x="70" y="385" font-size="6.5" text-anchor="middle" fill="#222" >miR-</text>
<text class="S" x="70" y="392.6" font-size="6.5" text-anchor="middle" fill="#222" >212</text>
<text class="S" x="87.8" y="385" font-size="6.5" text-anchor="middle" fill="#222" >miR-</text>
<text class="S" x="87.8" y="392.6" font-size="6.5" text-anchor="middle" fill="#222" >29a</text>
<text class="S" x="106.6" y="385" font-size="6.5" text-anchor="middle" fill="#222" >ARA-c</text>
<text class="S" x="130.6" y="385" font-size="6.5" text-anchor="middle" fill="#222" >ARA-c</text>
<text class="S" x="135.8" y="392.6" font-size="6.5" text-anchor="middle" fill="#222" >+ miR-29a</text>
<text class="S" transform="translate(25.47,326.8) rotate(-90)" text-anchor="middle" font-size="7.35" font-weight="bold" fill="#000">Apoptotic cells %</text>
<line x1="166.7" y1="304.6" x2="166.7" y2="375.3" stroke="#000" stroke-width="1.9"/>
<line x1="166.5" y1="375.3" x2="257.8" y2="375.3" stroke="#000" stroke-width="1.5"/>
<line x1="165.2" y1="375.3" x2="167" y2="375.3" stroke="#000" stroke-width="0.7"/>
<text class="S" x="164.5" y="378" font-size="5.9" text-anchor="end" fill="#222" >0</text>
<line x1="165.2" y1="365.3" x2="167" y2="365.3" stroke="#000" stroke-width="0.7"/>
<text class="S" x="164.5" y="368.03" font-size="5.9" text-anchor="end" fill="#222" >10</text>
<line x1="165.2" y1="355.3" x2="167" y2="355.3" stroke="#000" stroke-width="0.7"/>
<text class="S" x="164.5" y="358.06" font-size="5.9" text-anchor="end" fill="#222" >20</text>
<line x1="165.2" y1="345.3" x2="167" y2="345.3" stroke="#000" stroke-width="0.7"/>
<text class="S" x="164.5" y="348.09" font-size="5.9" text-anchor="end" fill="#222" >30</text>
<line x1="165.2" y1="335.3" x2="167" y2="335.3" stroke="#000" stroke-width="0.7"/>
<text class="S" x="164.5" y="338.12" font-size="5.9" text-anchor="end" fill="#222" >40</text>
<line x1="165.2" y1="325.3" x2="167" y2="325.3" stroke="#000" stroke-width="0.7"/>
<text class="S" x="164.5" y="328.15" font-size="5.9" text-anchor="end" fill="#222" >50</text>
<line x1="165.2" y1="315.3" x2="167" y2="315.3" stroke="#000" stroke-width="0.7"/>
<text class="S" x="164.5" y="318.18" font-size="5.9" text-anchor="end" fill="#222" >60</text>
<line x1="165.2" y1="305.3" x2="167" y2="305.3" stroke="#000" stroke-width="0.7"/>
<text class="S" x="164.5" y="308.21" font-size="5.9" text-anchor="end" fill="#222" >70</text>
<rect x="168.65" y="359.75" width="19.1" height="15.55" fill="#fff" stroke="#000" stroke-width="1.9"/>
<rect x="191.25" y="344.55" width="19.3" height="30.75" fill="url(#fine)" stroke="#000" stroke-width="1.9"/>
<rect x="212.7" y="328" width="22.5" height="47.3" fill="#fff"/>
<rect x="215" y="328" width="1" height="47.3" fill="#1a1a1a"/>
<rect x="219" y="328" width="1" height="47.3" fill="#1a1a1a"/>
<rect x="222" y="328" width="1" height="47.3" fill="#1a1a1a"/>
<rect x="225" y="328" width="1" height="47.3" fill="#1a1a1a"/>
<rect x="228" y="328" width="1" height="47.3" fill="#1a1a1a"/>
<rect x="231" y="328" width="1" height="47.3" fill="#1a1a1a"/>
<rect x="213.65" y="328.95" width="20.6" height="46.35" fill="none" stroke="#000" stroke-width="1.9"/>
<clipPath id="c8"><rect x="235.8" y="321.5" width="21.2" height="53.8"/></clipPath>
<rect x="235.8" y="321.5" width="21.2" height="53.8" fill="#fff"/>
<path clip-path="url(#c8)" d="M181.25,321.5L235.05,375.3M184,321.5L237.8,375.3M186.75,321.5L240.55,375.3M189.5,321.5L243.3,375.3M192.25,321.5L246.05,375.3M195,321.5L248.8,375.3M197.75,321.5L251.55,375.3M200.5,321.5L254.3,375.3M203.25,321.5L257.05,375.3M206,321.5L259.8,375.3M208.75,321.5L262.55,375.3M211.5,321.5L265.3,375.3M214.25,321.5L268.05,375.3M217,321.5L270.8,375.3M219.75,321.5L273.55,375.3M222.5,321.5L276.3,375.3M225.25,321.5L279.05,375.3M228,321.5L281.8,375.3M230.75,321.5L284.55,375.3M233.5,321.5L287.3,375.3M236.25,321.5L290.05,375.3M239,321.5L292.8,375.3M241.75,321.5L295.55,375.3M244.5,321.5L298.3,375.3M247.25,321.5L301.05,375.3M250,321.5L303.8,375.3M252.75,321.5L306.55,375.3M255.5,321.5L309.3,375.3M258.25,321.5L312.05,375.3" stroke="#000" stroke-width="0.78" fill="none"/>
<rect x="236.75" y="322.45" width="19.3" height="52.85" fill="none" stroke="#000" stroke-width="1.9"/>
<line x1="178.2" y1="357.4" x2="178.2" y2="358.8" stroke="#333" stroke-width="0.8"/>
<line x1="176.9" y1="357.4" x2="179.5" y2="357.4" stroke="#333" stroke-width="1.1"/>
<line x1="201" y1="338" x2="201" y2="343.6" stroke="#333" stroke-width="0.8"/>
<line x1="199.7" y1="338" x2="202.3" y2="338" stroke="#333" stroke-width="1.1"/>
<line x1="223.8" y1="323.3" x2="223.8" y2="328" stroke="#333" stroke-width="0.8"/>
<line x1="222.5" y1="323.3" x2="225.1" y2="323.3" stroke="#333" stroke-width="1.1"/>
<line x1="246.4" y1="308.4" x2="246.4" y2="321.5" stroke="#333" stroke-width="0.8"/>
<line x1="245.1" y1="308.4" x2="247.7" y2="308.4" stroke="#333" stroke-width="1.1"/>
<path d="M234.4,307 L234.4,312 M232.23,308.25 L236.57,310.75 M232.23,310.75 L236.57,308.25" stroke="#3a3a3a" stroke-width="1.25" fill="none"/>
<path d="M178.8,333.3 V328 H200.9 V333.3" fill="none" stroke="#000" stroke-width="1.3"/>
<text class="T" x="176" y="324.7" font-size="8.8" textLength="25.6" lengthAdjust="spacing"><tspan font-style="italic">P</tspan> = .01</text>
<text class="T" x="172" y="300.9" font-size="7.2" fill="#222" >Kasumi-1</text>
<text class="S" x="178" y="384.6" font-size="6.4" text-anchor="middle" fill="#222" >EV</text>
<text class="S" x="192.2" y="384.6" font-size="6.4" fill="#222" >lenti</text>
<text class="S" x="191.2" y="392.9" font-size="6.4" fill="#222" >miR-29a</text>
<text class="S" x="225.2" y="384.6" font-size="6.4" text-anchor="middle" fill="#222" >Ara-C</text>
<text class="S" x="239.8" y="384.6" font-size="6.4" fill="#222" >ARA-C +</text>
<text class="S" x="239.8" y="392.9" font-size="6.4" fill="#222" >lenti miR-29a</text>
<text class="S" transform="translate(154.01,326.6) rotate(-90)" text-anchor="middle" font-size="7.45" font-weight="bold" fill="#000">Apoptotic cells %</text>
<rect x="343" y="155" width="85.6" height="18" fill="#e9e9e9" stroke="#000" stroke-width="1.6"/>
<rect x="343" y="176" width="85.6" height="19.5" fill="#e2e2e2" stroke="#000" stroke-width="1.6"/>
<rect x="433.7" y="154.9" width="54.2" height="17.8" fill="#f2f2f2" stroke="#000" stroke-width="1.4"/>
<rect x="432.85" y="176.15" width="55" height="18.9" fill="#bfbfbf" stroke="#000" stroke-width="1.9"/>
<ellipse cx="358.9" cy="166" rx="11.5" ry="2.15" fill="#404040" opacity="1.0" filter="url(#blur1)"/>
<ellipse cx="383.1" cy="165" rx="10" ry="1.4" fill="#5c5c5c" opacity="1.0" filter="url(#blur1)"/>
<ellipse cx="408.8" cy="164.4" rx="12.5" ry="2.5" fill="#3a3a3a" opacity="1.0" filter="url(#blur1)"/>
<ellipse cx="357.6" cy="185.3" rx="11.75" ry="3" fill="#444" opacity="1.0" filter="url(#blur1)"/>
<ellipse cx="384.2" cy="184.3" rx="11.25" ry="2.5" fill="#484848" opacity="1.0" filter="url(#blur1)"/>
<ellipse cx="410.2" cy="184.8" rx="11" ry="2.25" fill="#4e4e4e" opacity="1.0" filter="url(#blur1)"/>
<ellipse cx="446.4" cy="159.6" rx="10.5" ry="1.4" fill="#6a6a6a" opacity="0.9" filter="url(#blur1)"/>
<ellipse cx="474.3" cy="161.9" rx="9.5" ry="1.2" fill="#8a8a8a" opacity="0.8" filter="url(#blur1)"/>
<rect x="435.2" y="177.6" width="22.6" height="7.8" rx="7" ry="3.9" fill="#0c0c0c" filter="url(#blur1)"/>
<rect x="461.0" y="179.0" width="25.6" height="8.4" rx="8" ry="4.2" fill="#141414" filter="url(#blur1)"/>
<text class="T" x="353.4" y="151.4" font-size="7.4" text-anchor="middle" fill="#111" >SCR</text>
<text class="T" x="382.3" y="151.4" font-size="7.4" text-anchor="middle" fill="#111" >miR-29b</text>
<text class="T" x="414.5" y="151.4" font-size="7.4" text-anchor="middle" fill="#111" >miR-212</text>
<text class="T" x="445" y="151.4" font-size="7.4" text-anchor="middle" fill="#111" >SCR</text>
<text class="T" x="474.3" y="151.4" font-size="7.4" text-anchor="middle" fill="#111" >miR-29a</text>
<text class="T" x="297.6" y="166.6" font-size="7.2" fill="#111" >Pro-caspase 3</text>
<text class="T" x="298.2" y="187.4" font-size="7.2" fill="#111" >B -actin</text>
<path d="M492.2,167.3 L497.0,164.4 L497.0,170.2Z" fill="#000"/>
<line x1="496.5" y1="167.3" x2="499.6" y2="167.3" stroke="#000" stroke-width="1.5"/>
<text class="T" x="501.5" y="170" font-size="7.7" fill="#111" >32 Kd</text>
<path d="M492.2,185.6 L497.0,182.7 L497.0,188.5Z" fill="#000"/>
<line x1="496.5" y1="185.6" x2="499.6" y2="185.6" stroke="#000" stroke-width="1.5"/>
<text class="T" x="501.5" y="188.3" font-size="7.7" fill="#111" >42 Kd</text>
<line x1="345.9" y1="224" x2="345.9" y2="339.6" stroke="#000" stroke-width="1.7"/>
<line x1="345.4" y1="339.6" x2="490.6" y2="339.6" stroke="#000" stroke-width="1.5"/>
<line x1="344.1" y1="339.6" x2="345.9" y2="339.6" stroke="#000" stroke-width="0.7"/>
<text class="T" x="341.1" y="342.1" font-size="7.2" text-anchor="end" fill="#222" >0</text>
<line x1="344.1" y1="328.08" x2="345.9" y2="328.08" stroke="#000" stroke-width="0.7"/>
<text class="T" x="341.1" y="330.65" font-size="7.2" text-anchor="end" fill="#222" >10</text>
<line x1="344.1" y1="316.56" x2="345.9" y2="316.56" stroke="#000" stroke-width="0.7"/>
<text class="T" x="341.1" y="319.2" font-size="7.2" text-anchor="end" fill="#222" >20</text>
<line x1="344.1" y1="305.04" x2="345.9" y2="305.04" stroke="#000" stroke-width="0.7"/>
<text class="T" x="341.1" y="307.75" font-size="7.2" text-anchor="end" fill="#222" >30</text>
<line x1="344.1" y1="293.52" x2="345.9" y2="293.52" stroke="#000" stroke-width="0.7"/>
<text class="T" x="341.1" y="296.3" font-size="7.2" text-anchor="end" fill="#222" >40</text>
<line x1="344.1" y1="282" x2="345.9" y2="282" stroke="#000" stroke-width="0.7"/>
<text class="T" x="341.1" y="284.85" font-size="7.2" text-anchor="end" fill="#222" >50</text>
<line x1="344.1" y1="270.48" x2="345.9" y2="270.48" stroke="#000" stroke-width="0.7"/>
<text class="T" x="341.1" y="273.4" font-size="7.2" text-anchor="end" fill="#222" >60</text>
<line x1="344.1" y1="258.96" x2="345.9" y2="258.96" stroke="#000" stroke-width="0.7"/>
<text class="T" x="341.1" y="261.95" font-size="7.2" text-anchor="end" fill="#222" >70</text>
<line x1="344.1" y1="247.44" x2="345.9" y2="247.44" stroke="#000" stroke-width="0.7"/>
<text class="T" x="341.1" y="250.5" font-size="7.2" text-anchor="end" fill="#222" >80</text>
<line x1="344.1" y1="235.92" x2="345.9" y2="235.92" stroke="#000" stroke-width="0.7"/>
<text class="T" x="341.1" y="239.05" font-size="7.2" text-anchor="end" fill="#222" >90</text>
<line x1="344.1" y1="224.4" x2="345.9" y2="224.4" stroke="#000" stroke-width="0.7"/>
<text class="T" x="341.1" y="227.6" font-size="7.2" text-anchor="end" fill="#222" >100</text>
<line x1="369" y1="339.6" x2="369" y2="341.2" stroke="#000" stroke-width="0.7"/>
<line x1="393.6" y1="339.6" x2="393.6" y2="341.2" stroke="#000" stroke-width="0.7"/>
<line x1="417.8" y1="339.6" x2="417.8" y2="341.2" stroke="#000" stroke-width="0.7"/>
<line x1="442" y1="339.6" x2="442" y2="341.2" stroke="#000" stroke-width="0.7"/>
<line x1="466" y1="339.6" x2="466" y2="341.2" stroke="#000" stroke-width="0.7"/>
<line x1="490.4" y1="339.6" x2="490.4" y2="341.2" stroke="#000" stroke-width="0.7"/>
<rect x="349" y="331.1" width="17" height="8.5" fill="#fff" stroke="#000" stroke-width="1.6"/>
<rect x="372.2" y="285.4" width="18.6" height="54.2" fill="url(#fine2)" stroke="#000" stroke-width="1.6"/>
<clipPath id="c9"><rect x="396.1" y="285.4" width="18.9" height="54.2"/></clipPath>
<rect x="396.1" y="285.4" width="18.9" height="54.2" fill="#fff"/>
<path clip-path="url(#c9)" d="M339,339.6L393.2,285.4M341.6,339.6L395.8,285.4M344.2,339.6L398.4,285.4M346.8,339.6L401,285.4M349.4,339.6L403.6,285.4M352,339.6L406.2,285.4M354.6,339.6L408.8,285.4M357.2,339.6L411.4,285.4M359.8,339.6L414,285.4M362.4,339.6L416.6,285.4M365,339.6L419.2,285.4M367.6,339.6L421.8,285.4M370.2,339.6L424.4,285.4M372.8,339.6L427,285.4M375.4,339.6L429.6,285.4M378,339.6L432.2,285.4M380.6,339.6L434.8,285.4M383.2,339.6L437.4,285.4M385.8,339.6L440,285.4M388.4,339.6L442.6,285.4M391,339.6L445.2,285.4M393.6,339.6L447.8,285.4M396.2,339.6L450.4,285.4M398.8,339.6L453,285.4M401.4,339.6L455.6,285.4M404,339.6L458.2,285.4M406.6,339.6L460.8,285.4M409.2,339.6L463.4,285.4M411.8,339.6L466,285.4M414.4,339.6L468.6,285.4M417,339.6L471.2,285.4" stroke="#000" stroke-width="0.68" fill="none"/>
<rect x="396.9" y="286.2" width="17.3" height="53.4" fill="none" stroke="#000" stroke-width="1.6"/>
<rect x="419.3" y="265.2" width="20.3" height="74.4" fill="#fff"/>
<rect x="423" y="265.2" width="1" height="74.4" fill="#1a1a1a"/>
<rect x="427" y="265.2" width="1" height="74.4" fill="#1a1a1a"/>
<rect x="430" y="265.2" width="1" height="74.4" fill="#1a1a1a"/>
<rect x="434" y="265.2" width="1" height="74.4" fill="#1a1a1a"/>
<rect x="436" y="265.2" width="1" height="74.4" fill="#1a1a1a"/>
<rect x="420.1" y="266" width="18.7" height="73.6" fill="none" stroke="#000" stroke-width="1.6"/>
<rect x="444.8" y="270.8" width="18" height="68.8" fill="url(#sdots)" stroke="#000" stroke-width="1.6"/>
<clipPath id="c10"><rect x="468.4" y="251" width="19.1" height="88.6"/></clipPath>
<rect x="468.4" y="251" width="19.1" height="88.6" fill="#fff"/>
<path clip-path="url(#c10)" d="M375.95,251L464.55,339.6M378.4,251L467,339.6M380.85,251L469.45,339.6M383.3,251L471.9,339.6M385.75,251L474.35,339.6M388.2,251L476.8,339.6M390.65,251L479.25,339.6M393.1,251L481.7,339.6M395.55,251L484.15,339.6M398,251L486.6,339.6M400.45,251L489.05,339.6M402.9,251L491.5,339.6M405.35,251L493.95,339.6M407.8,251L496.4,339.6M410.25,251L498.85,339.6M412.7,251L501.3,339.6M415.15,251L503.75,339.6M417.6,251L506.2,339.6M420.05,251L508.65,339.6M422.5,251L511.1,339.6M424.95,251L513.55,339.6M427.4,251L516,339.6M429.85,251L518.45,339.6M432.3,251L520.9,339.6M434.75,251L523.35,339.6M437.2,251L525.8,339.6M439.65,251L528.25,339.6M442.1,251L530.7,339.6M444.55,251L533.15,339.6M447,251L535.6,339.6M449.45,251L538.05,339.6M451.9,251L540.5,339.6M454.35,251L542.95,339.6M456.8,251L545.4,339.6M459.25,251L547.85,339.6M461.7,251L550.3,339.6M464.15,251L552.75,339.6M466.6,251L555.2,339.6M469.05,251L557.65,339.6M471.5,251L560.1,339.6M473.95,251L562.55,339.6M476.4,251L565,339.6M478.85,251L567.45,339.6M481.3,251L569.9,339.6M483.75,251L572.35,339.6M486.2,251L574.8,339.6M488.65,251L577.25,339.6" stroke="#000" stroke-width="0.8" fill="none"/>
<rect x="469.2" y="251.8" width="17.5" height="87.8" fill="none" stroke="#000" stroke-width="1.6"/>
<line x1="357.5" y1="324.9" x2="357.5" y2="330.3" stroke="#000" stroke-width="1"/>
<line x1="355.9" y1="324.9" x2="359.1" y2="324.9" stroke="#000" stroke-width="1.3"/>
<line x1="381.4" y1="278.7" x2="381.4" y2="284.6" stroke="#000" stroke-width="1"/>
<line x1="379.8" y1="278.7" x2="383" y2="278.7" stroke="#000" stroke-width="1.3"/>
<line x1="405.6" y1="280.6" x2="405.6" y2="285.4" stroke="#000" stroke-width="1"/>
<line x1="404" y1="280.6" x2="407.2" y2="280.6" stroke="#000" stroke-width="1.3"/>
<line x1="429.7" y1="256.9" x2="429.7" y2="265.2" stroke="#000" stroke-width="1"/>
<line x1="428.1" y1="256.9" x2="431.3" y2="256.9" stroke="#000" stroke-width="1.3"/>
<line x1="453.9" y1="258.4" x2="453.9" y2="270" stroke="#000" stroke-width="1"/>
<line x1="452.3" y1="258.4" x2="455.5" y2="258.4" stroke="#000" stroke-width="1.3"/>
<line x1="478.4" y1="239.6" x2="478.4" y2="251" stroke="#000" stroke-width="1"/>
<line x1="476.8" y1="239.6" x2="480" y2="239.6" stroke="#000" stroke-width="1.3"/>
<text class="T" transform="translate(326.81,277) rotate(-90)" text-anchor="middle" font-size="8.9" font-weight="bold" fill="#000">Apoptosis cells %</text>
<text class="T" x="307" y="354.9" font-size="6.6" font-weight="bold" fill="#111" >Scrambled</text>
<line x1="356.1" y1="352.5" x2="359.7" y2="352.5" stroke="#333" stroke-width="1.15"/>
<line x1="382.8" y1="352.5" x2="386.4" y2="352.5" stroke="#333" stroke-width="1.15"/>
<line x1="405.8" y1="352.5" x2="409.8" y2="352.5" stroke="#555" stroke-width="0.7"/>
<line x1="407.8" y1="350.5" x2="407.8" y2="354.5" stroke="#555" stroke-width="0.7"/>
<line x1="429.5" y1="352.5" x2="433.1" y2="352.5" stroke="#333" stroke-width="1.15"/>
<line x1="452.4" y1="352.5" x2="456.4" y2="352.5" stroke="#555" stroke-width="0.7"/>
<line x1="454.4" y1="350.5" x2="454.4" y2="354.5" stroke="#555" stroke-width="0.7"/>
<line x1="477" y1="352.5" x2="480.6" y2="352.5" stroke="#333" stroke-width="1.15"/>
<text class="T" x="307" y="367.8" font-size="6.6" font-weight="bold" fill="#111" >miR-29b</text>
<line x1="356.1" y1="365.4" x2="359.7" y2="365.4" stroke="#333" stroke-width="1.15"/>
<line x1="382.8" y1="365.4" x2="386.4" y2="365.4" stroke="#333" stroke-width="1.15"/>
<line x1="406" y1="365.4" x2="409.6" y2="365.4" stroke="#333" stroke-width="1.15"/>
<line x1="429.3" y1="365.4" x2="433.3" y2="365.4" stroke="#555" stroke-width="0.7"/>
<line x1="431.3" y1="363.4" x2="431.3" y2="367.4" stroke="#555" stroke-width="0.7"/>
<line x1="452.6" y1="365.4" x2="456.2" y2="365.4" stroke="#333" stroke-width="1.15"/>
<line x1="476.8" y1="365.4" x2="480.8" y2="365.4" stroke="#555" stroke-width="0.7"/>
<line x1="478.8" y1="363.4" x2="478.8" y2="367.4" stroke="#555" stroke-width="0.7"/>
<text class="T" x="307" y="380" font-size="6.6" font-weight="bold" fill="#111" >ARA-C (5 uM)</text>
<line x1="356.1" y1="377.6" x2="359.7" y2="377.6" stroke="#333" stroke-width="1.15"/>
<line x1="382.6" y1="377.6" x2="386.6" y2="377.6" stroke="#555" stroke-width="0.7"/>
<line x1="384.6" y1="375.6" x2="384.6" y2="379.6" stroke="#555" stroke-width="0.7"/>
<line x1="406" y1="377.6" x2="409.6" y2="377.6" stroke="#333" stroke-width="1.15"/>
<line x1="429.5" y1="377.6" x2="433.1" y2="377.6" stroke="#333" stroke-width="1.15"/>
<line x1="452.4" y1="377.6" x2="456.4" y2="377.6" stroke="#555" stroke-width="0.7"/>
<line x1="454.4" y1="375.6" x2="454.4" y2="379.6" stroke="#555" stroke-width="0.7"/>
<line x1="476.8" y1="377.6" x2="480.8" y2="377.6" stroke="#555" stroke-width="0.7"/>
<line x1="478.8" y1="375.6" x2="478.8" y2="379.6" stroke="#555" stroke-width="0.7"/>
<text class="T" x="307" y="392.3" font-size="6.6" font-weight="bold" fill="#111" >PBS</text>
<line x1="355.9" y1="389.9" x2="359.9" y2="389.9" stroke="#555" stroke-width="0.7"/>
<line x1="357.9" y1="387.9" x2="357.9" y2="391.9" stroke="#555" stroke-width="0.7"/>
<line x1="382.8" y1="389.9" x2="386.4" y2="389.9" stroke="#333" stroke-width="1.15"/>
<line x1="406" y1="389.9" x2="409.6" y2="389.9" stroke="#333" stroke-width="1.15"/>
<line x1="429.5" y1="389.9" x2="433.1" y2="389.9" stroke="#333" stroke-width="1.15"/>
<line x1="452.6" y1="389.9" x2="456.2" y2="389.9" stroke="#333" stroke-width="1.15"/>
<line x1="477" y1="389.9" x2="480.6" y2="389.9" stroke="#333" stroke-width="1.15"/>
</svg>
</body></html>
